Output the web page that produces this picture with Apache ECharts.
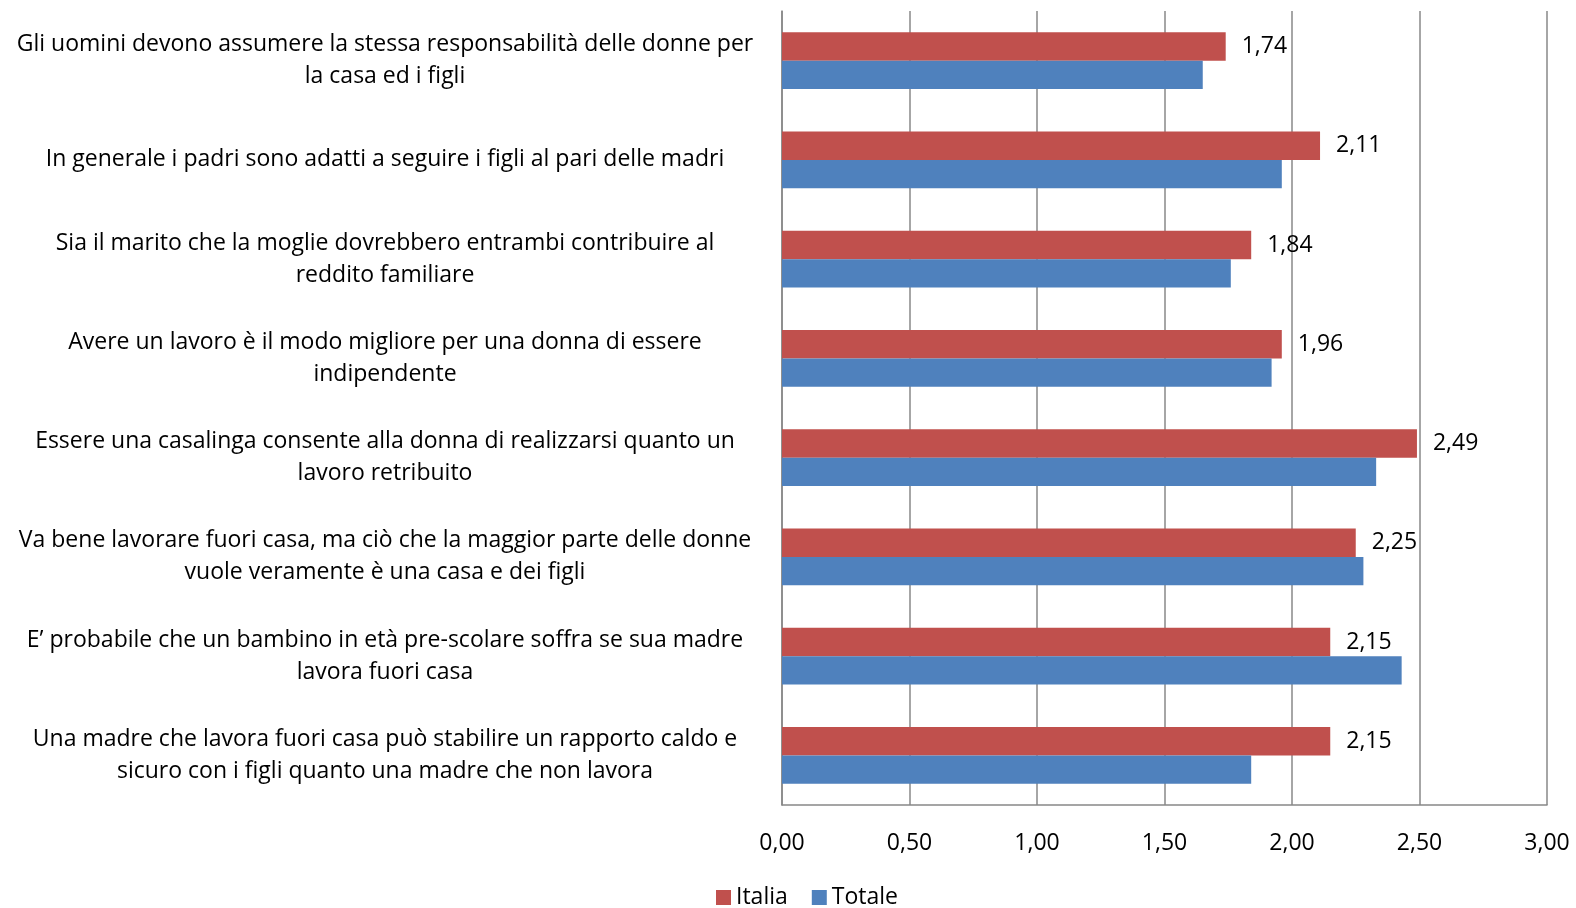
<!DOCTYPE html>
<html><head><meta charset="utf-8">
<script src="https://cdn.jsdelivr.net/npm/echarts@6/dist/echarts.min.js"></script>
<style>html,body{margin:0;padding:0;background:#fff}#c{width:1576px;height:908px}</style>
</head><body><div id="c"></div>
<script>
const categories = [
  "Gli uomini devono assumere la stessa responsabilità delle donne per\nla casa ed i figli",
  "In generale i padri sono adatti a seguire i figli al pari delle madri",
  "Sia il marito che la moglie dovrebbero entrambi contribuire al\nreddito familiare",
  "Avere un lavoro è il modo migliore per una donna di essere\nindipendente",
  "Essere una casalinga consente alla donna di realizzarsi quanto un\nlavoro retribuito",
  "Va bene lavorare fuori casa, ma ciò che la maggior parte delle donne\nvuole veramente è una casa e dei figli",
  "E’ probabile che un bambino in età pre-scolare soffra se sua madre\nlavora fuori casa",
  "Una madre che lavora fuori casa può stabilire un rapporto caldo e\nsicuro con i figli quanto una madre che non lavora"
];
const italia = [1.74, 2.11, 1.84, 1.96, 2.49, 2.25, 2.15, 2.15];
const totale = [1.65, 1.96, 1.76, 1.92, 2.33, 2.28, 2.43, 1.84];
const seriesNames = ["Italia", "Totale"];

const FONT = "Open Sans";
const fmt = v => v.toFixed(2).replace('.', ',');
const chart = echarts.init(document.getElementById('c'));
chart.setOption({
  animation: false,
  textStyle: { fontFamily: FONT },
  grid: { left: 782, right: 29, top: 11, bottom: 103, containLabel: false },
  legend: {
    top: 881, left: 711,
    itemWidth: 15, itemHeight: 15, itemGap: 24,
    icon: 'rect',
    textStyle: { fontFamily: FONT, fontSize: 23, color: '#000' },
    data: seriesNames
  },
  xAxis: {
    type: 'value', min: 0, max: 3, interval: 0.5,
    axisLine: { show: true, lineStyle: { color: '#888', width: 1.5 } },
    axisTick: { show: false },
    splitLine: { show: true, lineStyle: { color: '#888', width: 1.5 } },
    axisLabel: { formatter: fmt, fontFamily: FONT, fontSize: 23, color: '#000', margin: 27 }
  },
  yAxis: {
    type: 'category', data: categories, inverse: true,
    axisLine: { show: true, lineStyle: { color: '#888', width: 1.5 } },
    axisTick: { show: false },
    axisLabel: { fontFamily: FONT, fontSize: 23, color: '#000', align: 'center', margin: 397, lineHeight: 32 }
  },
  series: [
    {
      name: seriesNames[0], type: 'bar', data: italia,
      itemStyle: { color: '#C0504D' }, barGap: '0%', barCategoryGap: '43%',
      label: { show: true, position: 'right', distance: 16, formatter: p => fmt(p.value), fontFamily: FONT, fontSize: 23, color: '#000' }
    },
    {
      name: seriesNames[1], type: 'bar', data: totale,
      itemStyle: { color: '#4F81BD' }, barGap: '0%', barCategoryGap: '43%'
    }
  ]
});
</script></body></html>
